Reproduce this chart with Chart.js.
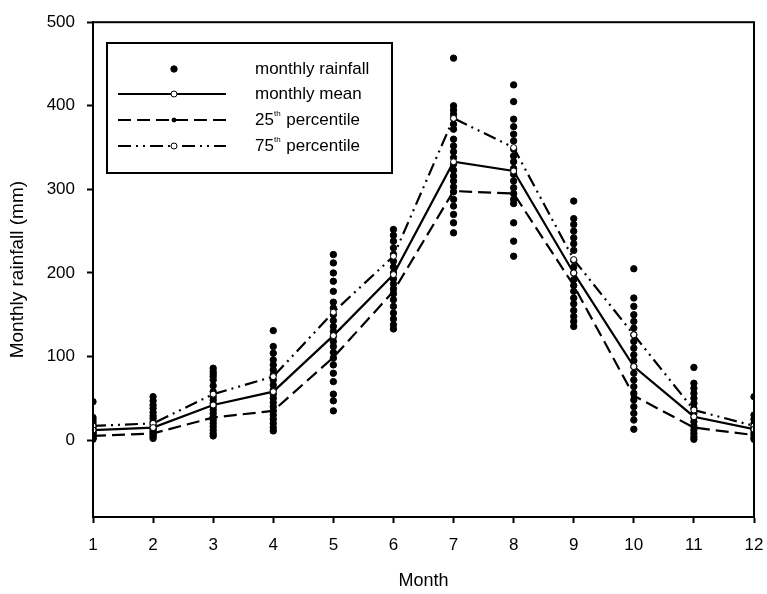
<!DOCTYPE html>
<html>
<head>
<meta charset="utf-8">
<script src="https://cdn.jsdelivr.net/npm/chart.js@4"></script>
<style>
  html, body { margin: 0; padding: 0; background: #fff; }
  #wrap { width: 767px; height: 594px; }
</style>
</head>
<body>
<div id="wrap"><canvas id="chart" width="767" height="594"></canvas></div>
<script>
// Meses (eixo X)
const months = [1, 2, 3, 4, 5, 6, 7, 8, 9, 10, 11, 12];

// Chuva mensal de cada ano, por mês (mm)
const rainfallByMonth = [
  [46, 27, 24, 21, 18, 16, 14, 12, 10, 9, 8, 6, 5, 3, 2, 1],
  [52, 47, 42, 38, 33, 29, 26, 22, 19, 16, 14, 12, 10, 8, 6, 4, 2],
  [86, 82, 79, 76, 72, 65, 58, 52, 48, 44, 40, 36, 32, 28, 24, 20, 16, 12, 8, 5],
  [131, 112, 104, 96, 90, 84, 78, 72, 66, 60, 55, 50, 45, 40, 35, 30, 25, 20, 15, 11],
  [222, 212, 200, 190, 178, 165, 158, 150, 143, 136, 130, 124, 118, 112, 105, 98, 90, 80, 70, 55, 47, 35],
  [252, 245, 238, 230, 222, 214, 207, 200, 193, 187, 181, 175, 168, 160, 152, 145, 138, 133],
  [457, 400, 395, 390, 385, 378, 372, 360, 352, 345, 338, 330, 323, 316, 310, 303, 297, 288, 280, 270, 260, 248],
  [425, 405, 384, 375, 366, 358, 348, 340, 333, 325, 318, 310, 302, 295, 288, 283, 260, 238, 220],
  [286, 265, 258, 250, 242, 235, 227, 215, 207, 200, 192, 185, 178, 170, 163, 155, 148, 142, 136],
  [205, 170, 160, 150, 142, 134, 126, 118, 110, 102, 95, 88, 80, 72, 64, 56, 48, 40, 32, 24, 13],
  [87, 68, 62, 56, 50, 44, 38, 32, 27, 22, 17, 12, 8, 4, 1],
  [52, 30, 25, 20, 16, 12, 9, 6, 3, 1]
];

// Média e percentis
const monthlyMean = [12, 15, 42, 58, 125, 198, 333, 322, 200, 88, 28, 13];
const percentile25 = [5, 8, 27, 35, 99, 178, 298, 295, 185, 53, 15, 6];
const percentile75 = [17, 20, 55, 76, 153, 220, 385, 350, 216, 126, 36, 17];

// Rótulos do eixo Y
const yTicks = [0, 100, 200, 300, 400, 500];

const FONT = "'Liberation Sans', Arial, sans-serif";

const rainfallPoints = rainfallByMonth.flatMap((vals, i) => vals.map(v => ({ x: months[i], y: v })));
const toPoints = arr => arr.map((v, i) => ({ x: months[i], y: v }));

// Caixa em volta da área do gráfico
const frame = {
  id: 'frame',
  afterDraw(chart) {
    const { ctx, chartArea: a } = chart;
    ctx.save();
    ctx.strokeStyle = '#000';
    ctx.lineWidth = 2;
    ctx.strokeRect(a.left, a.top, a.right - a.left, a.bottom - a.top);
    ctx.restore();
  }
};

// Legenda desenhada à mão (com "th" sobrescrito)
const boxLegend = {
  id: 'boxLegend',
  afterDraw(chart) {
    const ctx = chart.ctx;
    const ds = chart.data.datasets;
    ctx.save();
    ctx.strokeStyle = '#000';
    ctx.lineWidth = 2;
    ctx.strokeRect(107, 43, 285, 130);

    const rows = [69, 94, 120, 146];
    const x1 = 118, x2 = 226, xm = 174, tx = 255;
    ds.forEach((d, i) => {
      const y = rows[i];
      if (d.showLine !== false) {
        ctx.beginPath();
        ctx.setLineDash(d.borderDash || []);
        ctx.lineWidth = d.borderWidth;
        ctx.moveTo(x1, y);
        ctx.lineTo(x2, y);
        ctx.stroke();
        ctx.setLineDash([]);
      }
      ctx.beginPath();
      ctx.lineWidth = 1;
      ctx.fillStyle = d.pointBackgroundColor;
      ctx.arc(xm, y, d.pointRadius, 0, Math.PI * 2);
      ctx.fill();
      ctx.stroke();

      ctx.fillStyle = '#000';
      ctx.textBaseline = 'middle';
      ctx.textAlign = 'left';
      ctx.font = '17px ' + FONT;
      const m = d.label.match(/^(\d+)th (.*)$/);
      if (m) {
        ctx.fillText(m[1], tx, y);
        let w = ctx.measureText(m[1]).width;
        ctx.font = '8px ' + FONT;
        ctx.fillText('th', tx + w, y - 6);
        w += ctx.measureText('th').width + 1;
        ctx.font = '17px ' + FONT;
        ctx.fillText(' ' + m[2], tx + w, y);
      } else {
        ctx.fillText(d.label, tx, y);
      }
    });
    ctx.restore();
  }
};

new Chart(document.getElementById('chart'), {
  type: 'scatter',
  data: {
    datasets: [
      {
        label: 'monthly rainfall',
        data: rainfallPoints,
        showLine: false,
        pointRadius: 3.2,
        pointBackgroundColor: '#000',
        pointBorderColor: '#000',
        order: 4
      },
      {
        label: 'monthly mean',
        data: toPoints(monthlyMean),
        showLine: true,
        borderColor: '#000',
        borderWidth: 2.2,
        pointRadius: 3,
        pointBackgroundColor: '#fff',
        pointBorderColor: '#000',
        pointBorderWidth: 1,
        order: 1
      },
      {
        label: '25th percentile',
        data: toPoints(percentile25),
        showLine: true,
        borderColor: '#000',
        borderWidth: 2.2,
        borderDash: [13, 6],
        pointRadius: 2,
        pointBackgroundColor: '#000',
        pointBorderColor: '#000',
        order: 2
      },
      {
        label: '75th percentile',
        data: toPoints(percentile75),
        showLine: true,
        borderColor: '#000',
        borderWidth: 2.2,
        borderDash: [13, 5, 2, 5, 2, 5],
        pointRadius: 3,
        pointBackgroundColor: '#fff',
        pointBorderColor: '#000',
        pointBorderWidth: 1,
        order: 3
      }
    ]
  },
  options: {
    responsive: false,
    animation: false,
    layout: { padding: { left: 0, right: 13, top: 21, bottom: 0 } },
    plugins: {
      legend: { display: false },
      tooltip: { enabled: false }
    },
    scales: {
      x: {
        type: 'linear',
        min: 1,
        max: 12,
        afterFit: s => { s.height = 77; s.paddingLeft = 0; s.paddingRight = 0; },
        afterBuildTicks: s => { s.ticks = months.map(v => ({ value: v })); },
        border: { color: '#000', width: 2 },
        grid: { drawOnChartArea: false, color: '#000', tickLength: 6, tickWidth: 2 },
        ticks: { color: '#000', font: { family: FONT, size: 17 }, padding: 12, maxRotation: 0 },
        title: {
          display: true,
          text: 'Month',
          color: '#000',
          font: { family: FONT, size: 18 },
          padding: { top: 0, bottom: 2 }
        }
      },
      y: {
        min: -92,
        max: 500,
        afterFit: s => { s.width = 93; },
        afterBuildTicks: s => { s.ticks = yTicks.map(v => ({ value: v })); },
        border: { color: '#000', width: 2 },
        grid: { drawOnChartArea: false, color: '#000', tickLength: 6, tickWidth: 2 },
        ticks: { color: '#000', font: { family: FONT, size: 17 }, padding: 12 },
        title: {
          display: true,
          text: 'Monthly rainfall (mm)',
          color: '#000',
          font: { family: FONT, size: 19 },
          padding: { top: 6, bottom: 0 }
        }
      }
    }
  },
  plugins: [frame, boxLegend]
});
</script>
</body>
</html>
